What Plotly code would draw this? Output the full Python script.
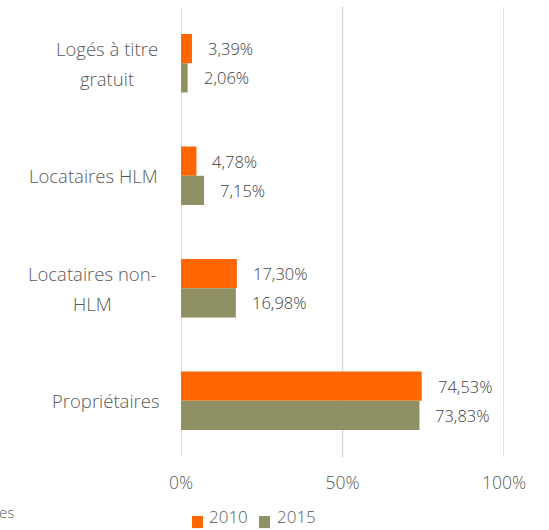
import plotly.graph_objects as go

categories = ["Logés à titre gratuit", "Locataires HLM", "Locataires non-HLM", "Propriétaires"]
category_lines = [["Logés à titre", "gratuit"], ["Locataires HLM"], ["Locataires non-", "HLM"], ["Propriétaires"]]
values_2010 = [3.39, 4.78, 17.30, 74.53]
values_2015 = [2.06, 7.15, 16.98, 73.83]
series_names = ["2010", "2015"]
x_ticks = [0, 50, 100]
x_tick_labels = ["0%", "50%", "100%"]

FONT = "Open Sans"
COLORS = ["#FF6600", "#8F9164"]
LABEL_CENTER_PX = [107, 93, 92, 106]   # horizontal centre of each category label block (layout)
PLOT_L, PLOT_W = 181, 323

fig = go.Figure()
for name, vals, col in zip(series_names, [values_2010, values_2015], COLORS):
    fig.add_trace(go.Bar(y=categories, x=vals, orientation="h", name=name,
                         marker=dict(color=col, line=dict(width=0)), hoverinfo="skip",
                         showlegend=False))

def fmt(v):
    return f"{v:.2f}".replace(".", ",") + "%"

annotations = []
shapes = []
for i, (a, b) in enumerate(zip(values_2010, values_2015)):
    for v, off in ((a, -0.13), (b, 0.13)):
        annotations.append(dict(x=v, y=i + off, xref="x", yref="y", text=fmt(v), showarrow=False,
                                xanchor="left", xshift=14,
                                font=dict(family=FONT, size=16.5, color="#404040", weight=300)))

cat_font = dict(family=FONT, size=18.5, color="#595959", weight=300)
for i, lines in enumerate(category_lines):
    n = len(lines)
    cx = (LABEL_CENTER_PX[i] - PLOT_L) / PLOT_W
    for j, line in enumerate(lines):
        off = (j - (n - 1) / 2) * 0.265
        annotations.append(dict(x=cx, y=i + off, xref="paper", yref="y", text=line, showarrow=False,
                                xanchor="center", yanchor="middle", align="center", font=cat_font))
annotations.append(dict(x=-0.560, y=-0.122, xref="paper", yref="paper", text="es", showarrow=False,
                        xanchor="left", yanchor="middle", xshift=-3,
                        font=dict(family=FONT, size=15, color="#595959", weight=300)))

# gridlines
for t in x_ticks:
    shapes.append(dict(type="line", xref="x", yref="paper", x0=t, x1=t, y0=0, y1=1,
                       line=dict(color="#D9D9D9", width=1.5), layer="below"))

# manual legend
legend_sq = [(0.034, 0.068), (0.2415, 0.2755)]
legend_tx = [0.0805, 0.291]
for name, col, (s0, s1), tx in zip(series_names, COLORS, legend_sq, legend_tx):
    shapes.append(dict(type="rect", xref="paper", yref="paper", x0=s0, x1=s1, y0=-0.158, y1=-0.131,
                       fillcolor=col, line=dict(width=0)))
    annotations.append(dict(x=tx, y=-0.1333, xref="paper", yref="paper", text=name, showarrow=False,
                            xanchor="left", yanchor="middle",
                            font=dict(family=FONT, size=17, color="#595959", weight=300)))

fig.update_layout(
    width=549, height=530,
    margin=dict(l=PLOT_L, r=549 - PLOT_L - PLOT_W, t=7, b=73),
    plot_bgcolor="white", paper_bgcolor="white",
    barmode="group", bargap=0.48, bargroupgap=0,
    showlegend=False,
    annotations=annotations,
    shapes=shapes,
    xaxis=dict(range=[0, 100], tickvals=x_ticks, ticktext=x_tick_labels, showgrid=False,
               zeroline=False, showline=False, ticks="",
               tickfont=dict(family=FONT, size=17.5, color="#595959", weight=300), ticklabelstandoff=13,
               fixedrange=True),
    yaxis=dict(categoryorder="array", categoryarray=categories, autorange="reversed",
               showticklabels=False, showgrid=False, zeroline=False, showline=False, ticks="",
               fixedrange=True),
)
fig.write_html("out.html", config={"displayModeBar": False},
               post_script="document.body.style.margin='0';")
